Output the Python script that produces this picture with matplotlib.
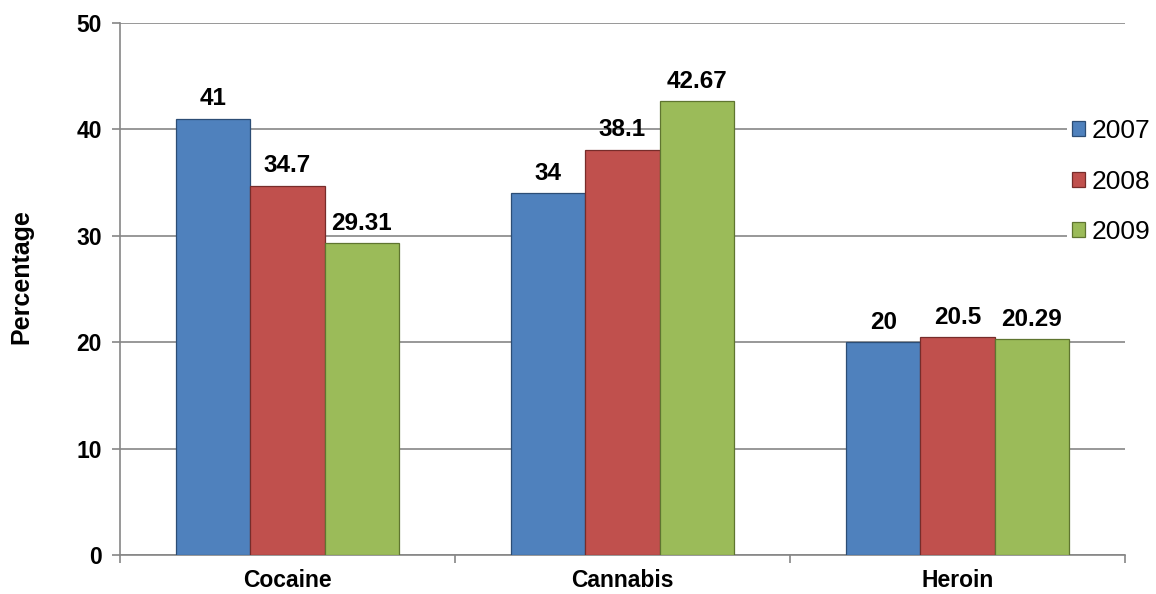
import numpy as np
import matplotlib
matplotlib.use("Agg")
import matplotlib.pyplot as plt

categories = ["Cocaine", "Cannabis", "Heroin"]
years = ["2007", "2008", "2009"]
values_2007 = [41, 34, 20]
values_2008 = [34.7, 38.1, 20.5]
values_2009 = [29.31, 42.67, 20.29]
labels_2007 = ["41", "34", "20"]
labels_2008 = ["34.7", "38.1", "20.5"]
labels_2009 = ["29.31", "42.67", "20.29"]

fill_colors = ["#4F81BD", "#C0504D", "#9BBB59"]
edge_colors = ["#2C4D75", "#772C2A", "#5F7530"]
grid_color = "#868686"

plt.rcParams["font.family"] = ["Liberation Sans", "DejaVu Sans"]

fig = plt.figure(figsize=(11.56, 5.94), dpi=100)
ax = fig.add_axes([120 / 1156, 39 / 594, 1005 / 1156, 532 / 594])

x = np.arange(len(categories))
width = 0.222
series = [values_2007, values_2008, values_2009]
series_labels = [labels_2007, labels_2008, labels_2009]

for i, (vals, labs) in enumerate(zip(series, series_labels)):
    pos = x + (i - 1) * width
    ax.bar(pos, vals, width=width, color=fill_colors[i], edgecolor=edge_colors[i],
           linewidth=0.9, label=years[i], zorder=3)
    for p, v, t in zip(pos, vals, labs):
        ax.text(p, v + 1.25, t, ha="center", va="baseline", fontsize=17.5,
                fontweight="bold", color="black", zorder=4)

ax.set_xlim(-0.5, len(categories) - 0.5)
ax.set_ylim(0, 50)
ax.set_yticks(np.arange(0, 51, 10))
ax.yaxis.grid(True, color=grid_color, linewidth=1.2, zorder=0)
ax.set_axisbelow(True)

ax.set_xticks(x)
ax.set_xticklabels(categories, fontsize=16.5, fontweight="bold")
ax.set_xticks(np.arange(-0.5, len(categories)), minor=True)
ax.tick_params(axis="x", which="major", length=0, pad=10)
ax.tick_params(axis="x", which="minor", length=6, width=1.2, color=grid_color, direction="out")
ax.tick_params(axis="y", length=6, width=1.2, color=grid_color, direction="out", pad=7)
for lbl in ax.get_yticklabels():
    lbl.set_fontsize(16.5)
    lbl.set_fontweight("bold")

for side in ["top", "right"]:
    ax.spines[side].set_visible(False)
for side in ["left", "bottom"]:
    ax.spines[side].set_color(grid_color)
    ax.spines[side].set_linewidth(1.2)

ax.set_ylabel("Percentage", fontsize=18, fontweight="bold")
ax.yaxis.set_label_coords(-0.086, 0.524)

leg = ax.legend(loc="center left", bbox_to_anchor=(0.942, 0.702), frameon=True,
                fontsize=19, handlelength=0.5, handleheight=0.5, handletextpad=0.25,
                labelspacing=1.0, borderpad=0.2, borderaxespad=0)
leg.get_frame().set_edgecolor("white")
leg.get_frame().set_facecolor("white")
leg.get_frame().set_alpha(1)
leg.get_frame().set_linewidth(0)
leg.set_zorder(5)

fig.savefig("out.png", dpi=100)
